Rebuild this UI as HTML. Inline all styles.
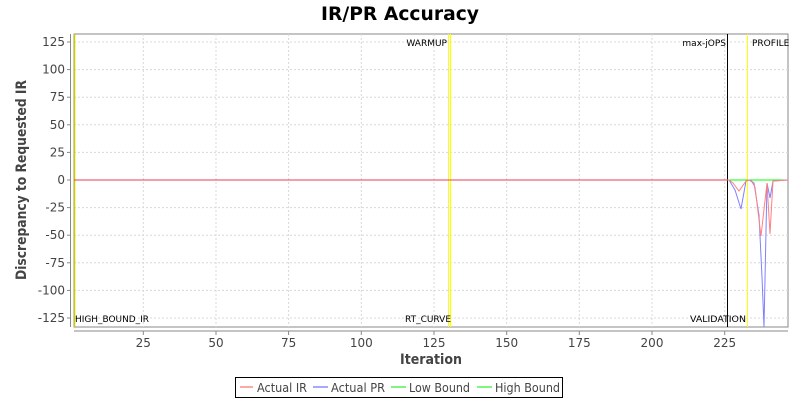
<!DOCTYPE html>
<html><head><meta charset="utf-8"><style>
body{margin:0;background:#fff;}
svg{display:block;font-family:"Liberation Sans","DejaVu Sans",sans-serif;}
</style></head><body>
<svg width="800" height="400" viewBox="0 0 800 400" xmlns="http://www.w3.org/2000/svg">
<rect width="800" height="400" fill="#fff"/>
<text x="400" y="20" text-anchor="middle" font-size="19" font-weight="bold" fill="#000" font-family="DejaVu Sans, sans-serif" textLength="158" lengthAdjust="spacingAndGlyphs">IR/PR Accuracy</text>
<rect x="74" y="34" width="714" height="293" fill="#fff" stroke="#888" stroke-width="1"/>
<g stroke="#d8d8d8" stroke-dasharray="2,2" stroke-width="1">
<line x1="143.3" y1="34" x2="143.3" y2="327"/><line x1="216" y1="34" x2="216" y2="327"/><line x1="288.6" y1="34" x2="288.6" y2="327"/><line x1="361.3" y1="34" x2="361.3" y2="327"/><line x1="434" y1="34" x2="434" y2="327"/><line x1="506.7" y1="34" x2="506.7" y2="327"/><line x1="579.3" y1="34" x2="579.3" y2="327"/><line x1="652" y1="34" x2="652" y2="327"/><line x1="724.7" y1="34" x2="724.7" y2="327"/>
<line x1="74" y1="42" x2="788" y2="42"/><line x1="74" y1="69.6" x2="788" y2="69.6"/><line x1="74" y1="97.2" x2="788" y2="97.2"/><line x1="74" y1="124.8" x2="788" y2="124.8"/><line x1="74" y1="152.4" x2="788" y2="152.4"/><line x1="74" y1="207.6" x2="788" y2="207.6"/><line x1="74" y1="235.2" x2="788" y2="235.2"/><line x1="74" y1="262.8" x2="788" y2="262.8"/><line x1="74" y1="290.4" x2="788" y2="290.4"/><line x1="74" y1="318" x2="788" y2="318"/>
</g>
<line x1="70.5" y1="34" x2="70.5" y2="327" stroke="#888"/>
<line x1="74" y1="331" x2="788" y2="331" stroke="#888"/>
<g stroke="#888">
<line x1="67" y1="42" x2="70.5" y2="42"/><line x1="67" y1="69.6" x2="70.5" y2="69.6"/><line x1="67" y1="97.2" x2="70.5" y2="97.2"/><line x1="67" y1="124.8" x2="70.5" y2="124.8"/><line x1="67" y1="152.4" x2="70.5" y2="152.4"/><line x1="67" y1="180" x2="70.5" y2="180"/><line x1="67" y1="207.6" x2="70.5" y2="207.6"/><line x1="67" y1="235.2" x2="70.5" y2="235.2"/><line x1="67" y1="262.8" x2="70.5" y2="262.8"/><line x1="67" y1="290.4" x2="70.5" y2="290.4"/><line x1="67" y1="318" x2="70.5" y2="318"/>
<line x1="143.3" y1="331" x2="143.3" y2="335"/><line x1="216" y1="331" x2="216" y2="335"/><line x1="288.6" y1="331" x2="288.6" y2="335"/><line x1="361.3" y1="331" x2="361.3" y2="335"/><line x1="434" y1="331" x2="434" y2="335"/><line x1="506.7" y1="331" x2="506.7" y2="335"/><line x1="579.3" y1="331" x2="579.3" y2="335"/><line x1="652" y1="331" x2="652" y2="335"/><line x1="724.7" y1="331" x2="724.7" y2="335"/>
</g>
<g font-size="12" fill="#444" text-anchor="end" font-family="DejaVu Sans, sans-serif">
<text x="65" y="46">125</text><text x="65" y="73.6">100</text><text x="65" y="101.2">75</text><text x="65" y="128.8">50</text><text x="65" y="156.4">25</text><text x="65" y="184">0</text><text x="65" y="211.6">-25</text><text x="65" y="239.2">-50</text><text x="65" y="266.8">-75</text><text x="65" y="294.4">-100</text><text x="65" y="322">-125</text>
</g>
<g font-size="12" fill="#444" text-anchor="middle" font-family="DejaVu Sans, sans-serif">
<text x="143.3" y="347">25</text><text x="216" y="347">50</text><text x="288.6" y="347">75</text><text x="361.3" y="347">100</text><text x="434" y="347">125</text><text x="506.7" y="347">150</text><text x="579.3" y="347">175</text><text x="652" y="347">200</text><text x="724.7" y="347">225</text>
</g>
<text x="431" y="364" text-anchor="middle" font-size="14" font-weight="bold" fill="#444" font-family="DejaVu Sans, sans-serif" textLength="62" lengthAdjust="spacingAndGlyphs">Iteration</text>
<text transform="translate(26,180) rotate(-90)" text-anchor="middle" font-size="14" font-weight="bold" fill="#444" font-family="DejaVu Sans, sans-serif" textLength="200" lengthAdjust="spacingAndGlyphs">Discrepancy to Requested IR</text>
<line x1="74.5" y1="34" x2="74.5" y2="327" stroke="#cccc00" stroke-width="1.5"/>
<line x1="448.5" y1="34" x2="448.5" y2="327" stroke="#ffff00" stroke-width="1"/>
<line x1="450.5" y1="34" x2="450.5" y2="327" stroke="#ffff00" stroke-width="1"/>
<line x1="727.5" y1="34" x2="727.5" y2="327" stroke="#000" stroke-width="1"/>
<line x1="747.5" y1="34" x2="747.5" y2="327" stroke="#ffff00" stroke-width="1"/>
<g font-size="9" fill="#000" font-family="DejaVu Sans, sans-serif">
<text x="75" y="322" textLength="74" lengthAdjust="spacingAndGlyphs">HIGH_BOUND_IR</text>
<text x="447" y="46" text-anchor="end">WARMUP</text>
<text x="451" y="322" text-anchor="end" textLength="46" lengthAdjust="spacingAndGlyphs">RT_CURVE</text>
<text x="726" y="46" text-anchor="end">max-jOPS</text>
<text x="746" y="322" text-anchor="end" textLength="56" lengthAdjust="spacingAndGlyphs">VALIDATION</text>
<text x="752" y="46">PROFILE</text>
</g>
<line x1="74" y1="180" x2="727" y2="180" stroke="#e04050" stroke-width="1"/>
<line x1="727" y1="180" x2="788" y2="180" stroke="#00ff00" stroke-width="1"/>
<polyline fill="none" stroke="#8080ff" stroke-width="1" points="727,180 729,180 735,190 741,209 746,181 750,180 754,183 759,215 762,277 764,327 767,183 770,198 773,181 788,180"/>
<polyline fill="none" stroke="#ff8080" stroke-width="1" points="727,180 729,180 733,183 739,191 746,181 749,180 752,182 755,187 761,236 767,183 770,234 773,181 788,180"/>
<rect x="235.5" y="377.5" width="327" height="20" fill="#fff" stroke="#000"/>
<g font-size="12" fill="#444" font-family="DejaVu Sans, sans-serif">
<line x1="240" y1="387" x2="253" y2="387" stroke="#ff5050"/><text x="257" y="392" textLength="50" lengthAdjust="spacingAndGlyphs">Actual IR</text>
<line x1="313" y1="387" x2="328" y2="387" stroke="#5050ff"/><text x="331" y="392" textLength="54" lengthAdjust="spacingAndGlyphs">Actual PR</text>
<line x1="391" y1="387" x2="406" y2="387" stroke="#00ee00"/><text x="409" y="392" textLength="61" lengthAdjust="spacingAndGlyphs">Low Bound</text>
<line x1="477" y1="387" x2="492" y2="387" stroke="#00ee00"/><text x="495" y="392" textLength="65" lengthAdjust="spacingAndGlyphs">High Bound</text>
</g>
</svg>
</body></html>
